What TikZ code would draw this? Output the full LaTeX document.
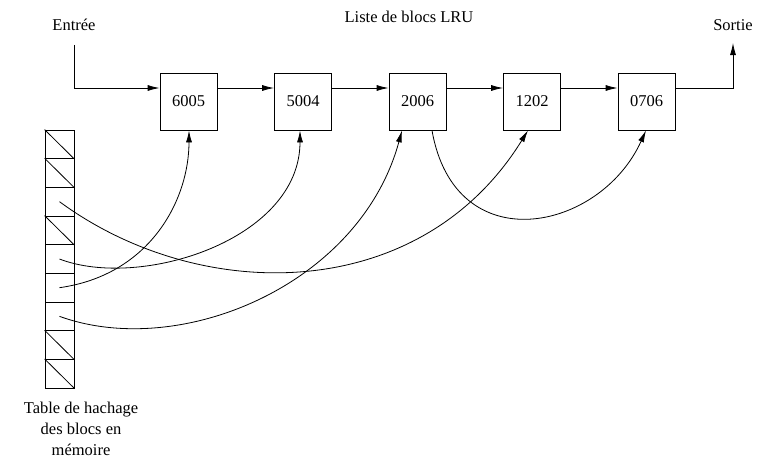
\documentclass[tikz,border=0pt]{standalone}
\usepackage{fontspec}
\setmainfont{Liberation Serif}
\usetikzlibrary{arrows.meta}
\begin{document}
\begin{tikzpicture}[x=1pt,y=-1pt,
  every node/.style={font=\fontsize{16.5}{21.5}\selectfont, inner sep=0pt},
  blk/.style={draw, line width=0.8pt, minimum width=57pt, minimum height=57pt},
  cell/.style={draw, line width=0.8pt, minimum width=29pt, minimum height=28.67pt},
  lbl/.style={align=center},
  link/.style={line width=0.8pt, -{Latex[length=12pt,width=6pt]}},
  ptr/.style={line width=0.8pt, -{Latex[length=12pt,width=6pt]}},
  slash/.style={line width=0.8pt}]
\useasboundingbox (0,0) rectangle (767,460);

% LRU list of blocks
\node[lbl] (title) at (409,17) {Liste de blocs LRU};
\node[lbl] (in) at (74,25) {Entrée};
\node[lbl] (out) at (733,25) {Sortie};
\node[blk] (b1) at (188.5,101.5) {6005};
\node[blk] (b2) at (303.0,101.5) {5004};
\node[blk] (b3) at (417.5,101.5) {2006};
\node[blk] (b4) at (532.0,101.5) {1202};
\node[blk] (b5) at (646.5,101.5) {0706};

\coordinate (inTop) at (74,45);
\coordinate (inCorner) at (74,88);
\coordinate (outCorner) at (733,88);
\coordinate (outTop) at (733,43);

\draw[link] (inTop) -- (inCorner) -- ([yshift=13.5pt]b1.west);
\draw[link] ([yshift=13.5pt]b1.east) -- ([yshift=13.5pt]b2.west);
\draw[link] ([yshift=13.5pt]b2.east) -- ([yshift=13.5pt]b3.west);
\draw[link] ([yshift=13.5pt]b3.east) -- ([yshift=13.5pt]b4.west);
\draw[link] ([yshift=13.5pt]b4.east) -- ([yshift=13.5pt]b5.west);
\draw[link] ([yshift=13.5pt]b5.east) -- (outCorner) -- (outTop);

% hash table of blocks in memory
\foreach \i in {1,...,9} {
  \node[cell] (h\i) at (59.5,{130+28.67*(\i-0.5)}) {};
}
\foreach \i in {1,2,4,8,9} {
  \draw[slash] (h\i.north west) -- (h\i.south east);
}
\node[lbl, font=\fontsize{16.5}{21}\selectfont] (tbl) at (81,428.5) {Table de hachage\\des blocs en\\mémoire};

% pointers from the table into the list
\draw[ptr] (h6.center) .. controls (150,275) and (189,200) .. (b1.south -| 189,0);
\draw[ptr] (h5.center) .. controls (140,290) and (300,240) .. (b2.south -| 300,0);
\draw[ptr] (h3.center) .. controls (200,305) and (420,305) .. (b4.south -| 528,0);
\draw[ptr] (h7.center) .. controls (180,360) and (360,285) .. (b3.south -| 402,0);

% link from 2006 to 0706
\draw[ptr] (b3.south -| 432,0) .. controls (455,262) and (600,232) .. (b5.south -| 646,0);
\end{tikzpicture}
\end{document}
